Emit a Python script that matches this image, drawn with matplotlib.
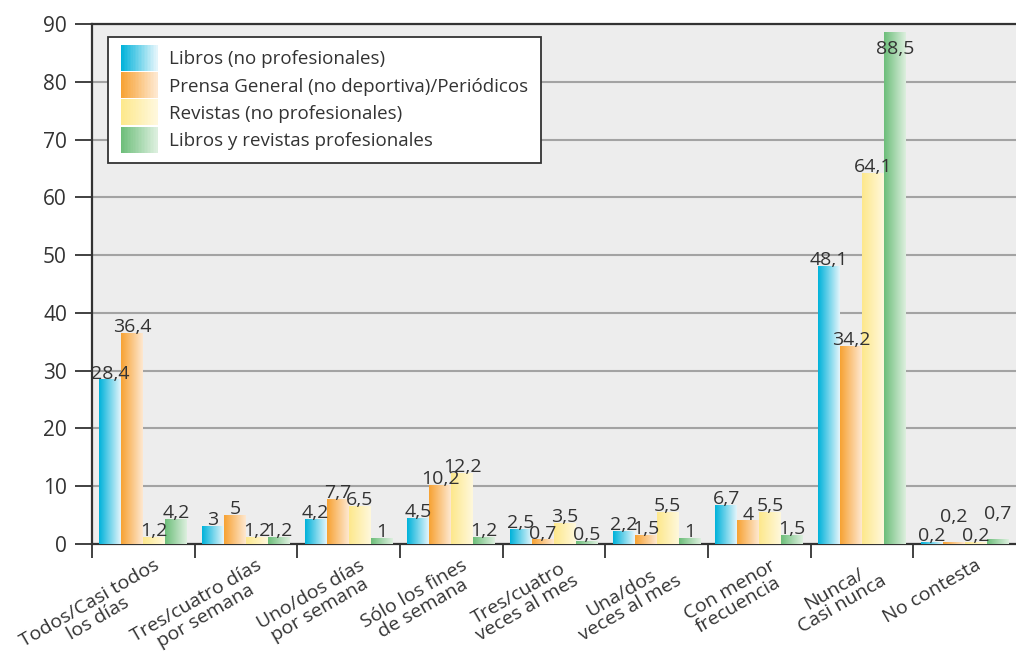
import matplotlib.pyplot as plt
import numpy as np
from matplotlib.colors import LinearSegmentedColormap
from matplotlib.legend_handler import HandlerBase
from matplotlib.patches import Rectangle
from matplotlib.transforms import ScaledTranslation

plt.rcParams['font.family'] = ['Open Sans', 'DejaVu Sans']

# data
categories = ['Todos/Casi todos\nlos días', 'Tres/cuatro días\npor semana',
              'Uno/dos días\npor semana', 'Sólo los fines\nde semana',
              'Tres/cuatro\nveces al mes', 'Una/dos\nveces al mes',
              'Con menor\nfrecuencia', 'Nunca/\nCasi nunca', 'No contesta']
series_names = ['Libros (no profesionales)',
                'Prensa General (no deportiva)/Periódicos',
                'Revistas (no profesionales)',
                'Libros y revistas profesionales']
libros = [28.4, 3, 4.2, 4.5, 2.5, 2.2, 6.7, 48.1, 0.2]
prensa = [36.4, 5, 7.7, 10.2, 0.7, 1.5, 4, 34.2, 0.2]
revistas = [1.2, 1.2, 6.5, 12.2, 3.5, 5.5, 5.5, 64.1, 0.2]
profesionales = [4.2, 1.2, 1, 1.2, 0.5, 1, 1.5, 88.5, 0.7]
series = [libros, prensa, revistas, profesionales]

# gradient colours (left -> right of each bar)
grads = [('#00b2da', '#e3f5fb'),
         ('#f7a233', '#fee8d0'),
         ('#fde88c', '#fff8dc'),
         ('#6dbe7a', '#dcefde')]
cmaps = [LinearSegmentedColormap.from_list('g%d' % i, g) for i, g in enumerate(grads)]
ramp = np.linspace(0, 1, 64).reshape(1, -1)

fig = plt.figure(figsize=(10.16, 6.56), dpi=100)
ax = fig.add_axes([92 / 1016, 1 - 544 / 656, 1 - 92 / 1016, 520 / 656])
ax.set_facecolor('#ededed')

x = np.arange(len(categories)) + 0.5
w = 0.214
txt = '#333333'
for i, vals in enumerate(series):
    bars = ax.bar(x + (i - 1.5) * w, vals, w, color='none', zorder=3)
    for j, (b, v) in enumerate(zip(bars, vals)):
        x0, y0 = b.get_x(), b.get_y()
        ax.imshow(ramp, cmap=cmaps[i], aspect='auto', zorder=3,
                  extent=[x0, x0 + b.get_width(), y0, y0 + b.get_height()])
        lab = ('%g' % v).replace('.', ',')
        cx = x0 + b.get_width() / 2
        if v > 85:
            ax.text(cx, v - 1.2, lab, ha='center', va='top', fontsize=14,
                    color=txt, zorder=5)
        else:
            # stagger the crowded labels of the last group
            dy = 14 if (j == 8 and i in (1, 3)) else 0
            ax.annotate(lab, (cx, v), xytext=(0, dy + 1),
                        textcoords='offset points', ha='center',
                        va='baseline', fontsize=14, color=txt, zorder=5)

ax.set_xlim(0, 9)
ax.set_ylim(0, 90)
ax.set_yticks(np.arange(0, 91, 10))
ax.grid(axis='y', color='#a3a3a3', linewidth=1.5, zorder=1)
ax.set_axisbelow(True)

ax.set_xticks(np.arange(0, 9))
ax.set_xticklabels([])
ax.tick_params(axis='x', which='major', length=10, width=1.3, color=txt)
ax.set_xticks(x, minor=True)
ax.set_xticklabels(categories, minor=True, rotation=30, ha='right',
                   rotation_mode='anchor', multialignment='center',
                   fontsize=14, color=txt, linespacing=0.95)
ax.tick_params(axis='x', which='minor', length=0, pad=9)
shift = ScaledTranslation(10 / 100, 0, fig.dpi_scale_trans)
for lbl in ax.get_xticklabels(minor=True):
    lbl.set_transform(lbl.get_transform() + shift)
ax.tick_params(axis='y', length=12, width=1.3, color=txt,
               labelsize=15, labelcolor=txt, pad=6)

for s in ['left', 'bottom', 'top']:
    ax.spines[s].set_color(txt)
    ax.spines[s].set_linewidth(1.6)
ax.spines['right'].set_visible(False)


class GradHandler(HandlerBase):
    def __init__(self, cmap):
        super().__init__()
        self.cmap = cmap

    def create_artists(self, legend, orig_handle, xdescent, ydescent,
                       width, height, fontsize, trans):
        n = 24
        out = []
        for k in range(n):
            r = Rectangle((-xdescent + width * k / n, -ydescent - 4),
                          width / n + 0.3, height + 8,
                          facecolor=self.cmap(k / (n - 1)), edgecolor='none',
                          transform=trans)
            out.append(r)
        return out


handles = [Rectangle((0, 0), 1, 1) for _ in series_names]
leg = ax.legend(handles, series_names,
                handler_map={h: GradHandler(c) for h, c in zip(handles, cmaps)},
                loc='upper left', bbox_to_anchor=(0.017, 0.975),
                fontsize=13.5, frameon=True, fancybox=False,
                edgecolor=txt, framealpha=1, handlelength=1.95,
                handleheight=0.85, handletextpad=0.6, labelspacing=0.5,
                borderpad=0.7, borderaxespad=0)
leg.get_frame().set_linewidth(1.3)
for t in leg.get_texts():
    t.set_color(txt)
leg.set_zorder(6)

fig.savefig('out.png', dpi=100)
